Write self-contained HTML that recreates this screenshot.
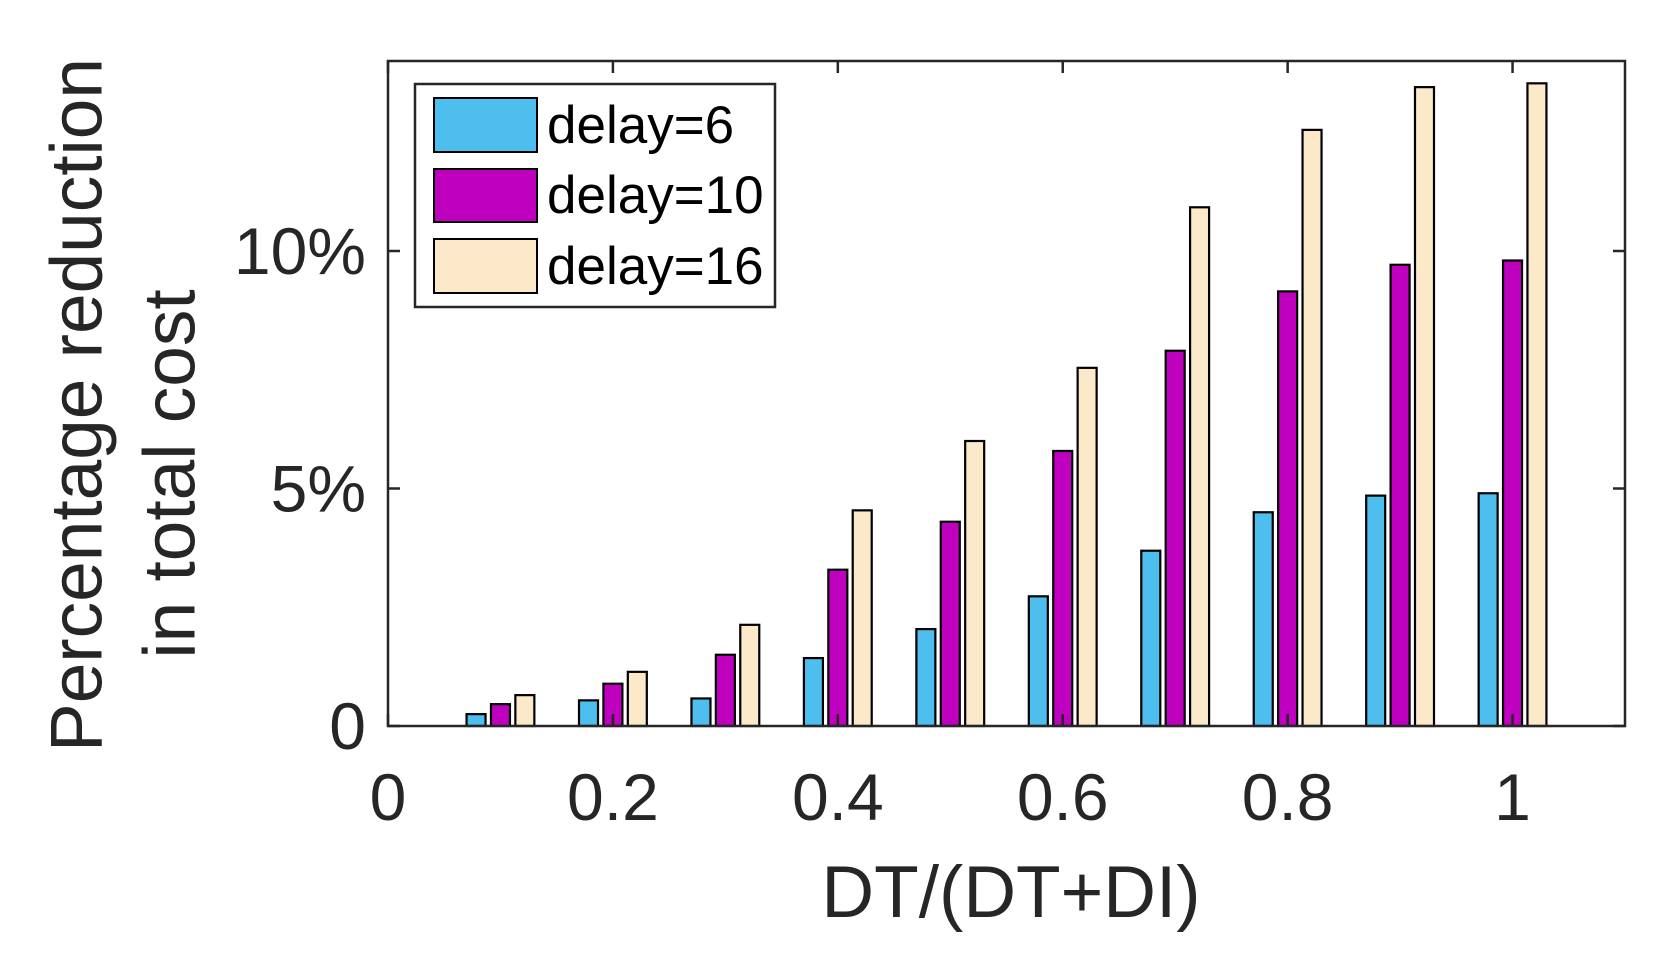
<!DOCTYPE html>
<html><head><meta charset="utf-8"><style>
html,body{margin:0;padding:0;background:#fff;}
svg{display:block;font-family:"Liberation Sans",Arial,sans-serif;}
</style></head><body>
<svg id="chart" width="1664" height="964" viewBox="0 0 1664 964">
<g id="bars"></g>
<g id="axes"></g>
<text x="77" y="405" transform="rotate(-90 77 405)" text-anchor="middle" dominant-baseline="central" font-size="73" fill="#262626">Percentage reduction</text>
<text x="170" y="474" transform="rotate(-90 170 474)" text-anchor="middle" dominant-baseline="central" font-size="73" fill="#262626">in total cost</text>
<text x="1011" y="917" text-anchor="middle" font-size="73" fill="#262626">DT/(DT+DI)</text>
<g>
<rect x="415" y="84" width="360" height="223" fill="#fff" stroke="#262626" stroke-width="2.5"/>
<rect x="434" y="98" width="103" height="54" fill="#4DBEEE" stroke="#000" stroke-width="2"/>
<text x="547" y="143" font-size="53" fill="#000">delay=6</text>
<rect x="434" y="169" width="103" height="53" fill="#BF00BF" stroke="#000" stroke-width="2"/>
<text x="547" y="213" font-size="53" fill="#000">delay=10</text>
<rect x="434" y="239" width="103" height="54" fill="#FCE9CA" stroke="#000" stroke-width="2"/>
<text x="547" y="284" font-size="53" fill="#000">delay=16</text>
</g>
</svg>
<script>
const categories = [0.1,0.2,0.3,0.4,0.5,0.6,0.7,0.8,0.9,1.0];
const delay6 = [0.25,0.54,0.58,1.43,2.04,2.73,3.69,4.5,4.85,4.9];
const delay10 = [0.46,0.89,1.5,3.29,4.3,5.79,7.9,9.15,9.71,9.8];
const delay16 = [0.65,1.14,2.13,4.54,6.0,7.54,10.92,12.55,13.45,13.53];
const xTicks = [0,0.2,0.4,0.6,0.8,1];
const xTickLabels = ["0","0.2","0.4","0.6","0.8","1"];
const yTicks = [0,5,10];
const yTickLabels = ["0","5%","10%"];

const L=388,R=1625,T=61,B=726,xMax=1.1,yMax=14;
const xs=v=>L+(v/xMax)*(R-L);
const ys=v=>B-(v/yMax)*(B-T);
const NS="http://www.w3.org/2000/svg";
function mk(tag,attrs,parent){const e=document.createElementNS(NS,tag);for(const k in attrs)e.setAttribute(k,attrs[k]);parent.appendChild(e);return e;}
const bars=document.getElementById('bars');
const axes=document.getElementById('axes');
const series=[[delay6,"#4DBEEE","delay6"],[delay10,"#BF00BF","delay10"],[delay16,"#FCE9CA","delay16"]];
const off=0.0217, bw=19;
series.forEach((s,si)=>{
  s[0].forEach((v,i)=>{
    const cx=xs(categories[i]+(si-1)*off);
    const r=mk('rect',{x:cx-bw/2,y:ys(v),width:bw,height:ys(0)-ys(v),fill:s[1],stroke:'#000','stroke-width':2.2},bars);
    
    
  });
});
const box=mk('rect',{x:L,y:T,width:R-L,height:B-T,fill:'none',stroke:'#262626','stroke-width':2.5},axes);


xTicks.forEach((v,i)=>{
  const x=xs(v);
  mk('line',{x1:x,x2:x,y1:B,y2:B-12,stroke:'#262626','stroke-width':2.5},axes);
  mk('line',{x1:x,x2:x,y1:T,y2:T+12,stroke:'#262626','stroke-width':2.5},axes);
  const t=mk('text',{x:x,y:820,'text-anchor':'middle','font-size':66,fill:'#262626'},axes);
  t.textContent=xTickLabels[i];
  
  
});
yTicks.forEach((v,i)=>{
  const y=ys(v);
  mk('line',{x1:L,x2:L+12,y1:y,y2:y,stroke:'#262626','stroke-width':2.5},axes);
  mk('line',{x1:R,x2:R-12,y1:y,y2:y,stroke:'#262626','stroke-width':2.5},axes);
  const t=mk('text',{x:366,y:y+23,'text-anchor':'end','font-size':66,fill:'#262626'},axes);
  t.textContent=yTickLabels[i];
  
  
});
</script>
</body></html>
